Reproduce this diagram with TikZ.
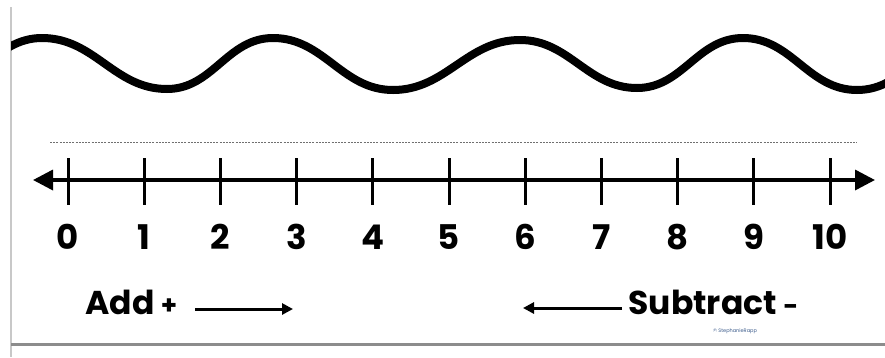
\documentclass[tikz,border=0pt]{standalone}
\usepackage{fontspec}
\setmainfont{Poppins}
\usetikzlibrary{arrows.meta}
\definecolor{grigio}{HTML}{8C8C8C}
\definecolor{grigiochiaro}{HTML}{C8C8C8}
\definecolor{firma}{HTML}{3A5A8A}

\begin{document}
\begin{tikzpicture}[x=1pt,y=-1pt,
    numero/.style={font=\fontsize{34}{34}\selectfont\bfseries},
    parola/.style={font=\fontsize{33}{33}\selectfont\bfseries},
    segno/.style={font=\fontsize{26}{26}\selectfont\bfseries},
    freccia/.style={line width=3pt, -{Triangle[length=11pt,width=11pt]}}]
  \useasboundingbox (0,0) rectangle (885,357);
  \def\d{76.2}
  % Cornice
  \draw[grigiochiaro, line width=1.5pt] (11,7) -- (11,357);
  \draw[grigio, line width=3pt] (11,344) -- (885,344);
  % Onda
  \begin{scope}
    \clip (11,0) rectangle (885,357);
    \draw[line width=8pt] (-70,90) to[out=0,in=180] (42,38)
      to[out=0,in=180] (167,89) to[out=0,in=180] (273,38)
      to[out=0,in=180] (393,90) to[out=0,in=180] (520,40)
      to[out=0,in=180] (637,88) to[out=0,in=180] (743,38)
      to[out=0,in=180] (857,90) to[out=0,in=180] (970,38);
  \end{scope}
  % Linea tratteggiata
  \draw[grigio!80!black, line width=1pt, dash pattern=on 2pt off 1.2pt] (50,142) -- (857,142);
  % Retta dei numeri
  \draw[line width=3.5pt, {Triangle[length=20pt,width=20pt]}-{Triangle[length=20pt,width=20pt]}]
    (33,180) -- (875,180);
  \foreach \i in {0,...,10}{
    \draw[line width=3pt] (68+\i*\d,158) -- (68+\i*\d,205);
    \node[numero] (n\i) at (68+\i*\d,237) {\i};
  }
  % Addizione
  \node[parola, anchor=west] (add) at (82,302) {Add};
  \node[segno] (piu) at (169,307) {+};
  \coordinate (addda) at (195,309);
  \coordinate (adda) at (293,309);
  \draw[freccia] (addda) -- (adda);
  % Sottrazione
  \coordinate (subda) at (622,308);
  \coordinate (suba) at (523,308);
  \draw[freccia] (subda) -- (suba);
  \node[parola, anchor=west] (sub) at (625,302) {Subtract};
  \node[segno] (meno) at (791,310) {-};
  \node[font=\fontsize{5}{5}\selectfont, text=firma] (firma) at (735,331) {© StephanieRapp};
\end{tikzpicture}
\end{document}
